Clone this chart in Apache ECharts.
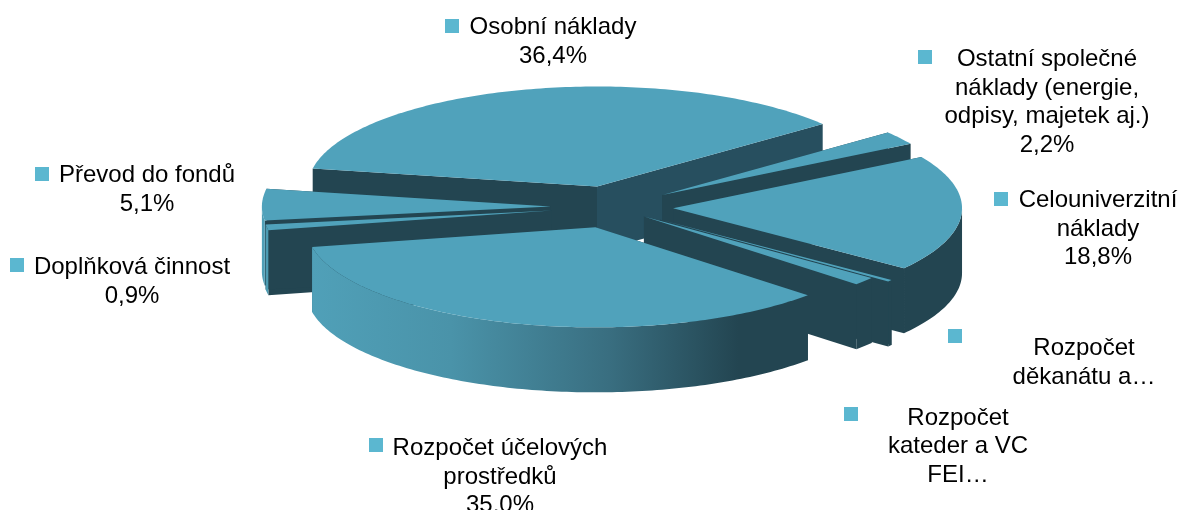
<!DOCTYPE html>
<html>
<head>
<meta charset="utf-8">
<style>
  html, body { margin: 0; padding: 0; background: #fff; }
  #chart { width: 1179px; height: 510px; }
</style>
<script src="https://cdn.jsdelivr.net/npm/echarts@6/dist/echarts.min.js"></script>
</head>
<body>
<div id="chart"></div>
<script>
// data, clockwise from the left edge of the biggest slice
const categories = ['Osobní náklady', 'Ostatní společné náklady', 'Celouniverzitní náklady', 'Rozpočet děkanátu', 'Rozpočet kateder', 'Rozpočet účelových prostředků', 'Doplňková činnost', 'Převod do fondů']
const values = [36.4, 2.2, 18.8, 0.3, 1.3, 35.0, 0.9, 5.1]
const labelLines = [
  ['Osobní náklady'],
  ['Ostatní společné', 'náklady (energie,', 'odpisy, majetek aj.)'],
  ['Celouniverzitní', 'náklady'],
  ['Rozpočet', 'děkanátu a…'],
  ['Rozpočet', 'kateder a VC', 'FEI…'],
  ['Rozpočet účelových', 'prostředků'],
  ['Doplňková činnost'],
  ['Převod do fondů']
]
const showValue = [true, true, true, false, false, true, true, true]

// painter's order, back to front
const drawOrder = [0, 1, 7, 6, 2, 3, 4, 5]

// pie projection
const START_ANGLE = 190.3
const CX = 612
const CY = 207
const RX = 289
const RY = 100
const DEPTH = 65
// slices are pulled out by a share of the radius, the kateder one less than the rest
const explodeBy = [0.2115, 0.2115, 0.2115, 0.2115, 0.145, 0.2115, 0.2115, 0.2115]

const TOP_COLOR = '#50a2bb'
const DARK = '#234551'
const CUT_LIGHT = '#274f5f'
const MARKER_COLOR = '#5bb7d0'

const frontGradient = new echarts.graphic.LinearGradient(0, 0, 1, 0, [
  { offset: 0, color: '#50a0b8' },
  { offset: 0.28, color: '#4a93a9' },
  { offset: 0.6, color: '#396e80' },
  { offset: 0.86, color: DARK },
  { offset: 1, color: DARK }
])
const sideFill = [DARK, DARK, DARK, DARK, DARK, frontGradient, '#4d9cb3', '#4f9fb7']
const endCutFill = [CUT_LIGHT, DARK, DARK, DARK, DARK, DARK, DARK, DARK]

// label layout: text block centre and marker centre
const labelBox = [
  { x: 553, y: 42, mx: 452, my: 26 },
  { x: 1047, y: 102.5, mx: 925, my: 57 },
  { x: 1098, y: 229, mx: 1001, my: 199 },
  { x: 1084, y: 363, mx: 955, my: 336 },
  { x: 958, y: 446.5, mx: 851, my: 414 },
  { x: 500, y: 477, mx: 376, my: 445 },
  { x: 132, y: 282, mx: 17, my: 265 },
  { x: 147, y: 190, mx: 42, my: 174 }
]

const total = values.reduce((a, b) => a + b, 0)
let acc = START_ANGLE
const slices = values.map((v) => {
  const from = acc
  acc += v / total * 360
  return { from, to: acc }
})

const rad = (deg) => deg * Math.PI / 180

const poly = (points, fill) => ({
  type: 'polygon',
  shape: { points },
  style: { fill, stroke: null }
})

const renderSlice = (params, api) => {
  const i = api.value(0)
  const { from, to } = slices[i]
  const mid = rad((from + to) / 2)
  const ax = CX + explodeBy[i] * RX * Math.cos(mid)
  const ay = CY + explodeBy[i] * RY * Math.sin(mid)

  const arc = []
  const steps = Math.max(2, Math.ceil(to - from))
  for (let s = 0; s <= steps; s++) {
    const t = rad(from + (to - from) * s / steps)
    arc.push({ x: ax + RX * Math.cos(t), y: ay + RY * Math.sin(t), front: Math.sin(t) >= 0 })
  }
  const first = arc[0]
  const last = arc[arc.length - 1]
  const children = []

  // the two cut faces
  children.push(poly([[ax, ay], [first.x, first.y], [first.x, first.y + DEPTH], [ax, ay + DEPTH]], DARK))
  children.push(poly([[ax, ay], [last.x, last.y], [last.x, last.y + DEPTH], [ax, ay + DEPTH]], endCutFill[i]))

  // outer wall, only the part turned towards the viewer
  const front = arc.filter((p) => p.front)
  if (front.length > 1) {
    const wall = front.map((p) => [p.x, p.y])
    front.slice().reverse().forEach((p) => wall.push([p.x, p.y + DEPTH]))
    children.push(poly(wall, sideFill[i]))
  }

  // top
  children.push(poly([[ax, ay]].concat(arc.map((p) => [p.x, p.y])), TOP_COLOR))

  return { type: 'group', children }
}

const labelElements = []
categories.forEach((name, i) => {
  const lines = labelLines[i].slice()
  if (showValue[i]) lines.push(values[i].toFixed(1).replace('.', ',') + '%')
  const box = labelBox[i]
  labelElements.push({
    type: 'rect',
    shape: { x: box.mx - 7, y: box.my - 7, width: 14, height: 14 },
    style: { fill: MARKER_COLOR }
  })
  labelElements.push({
    type: 'text',
    x: box.x,
    y: box.y,
    style: {
      text: lines.join('\n'),
      align: 'center',
      verticalAlign: 'middle',
      fontFamily: '"Liberation Sans", Arial, sans-serif',
      fontSize: 24,
      lineHeight: 28.5,
      fill: '#000'
    }
  })
})

const chart = echarts.init(document.getElementById('chart'), null, { renderer: 'canvas' })
chart.setOption({
  animation: false,
  backgroundColor: '#fff',
  graphic: { elements: labelElements },
  series: [
    {
      type: 'custom',
      coordinateSystem: 'none',
      silent: true,
      renderItem: renderSlice,
      data: drawOrder.map((i) => ({ name: categories[i], value: [i, values[i]] }))
    }
  ]
})
</script>
</body>
</html>
